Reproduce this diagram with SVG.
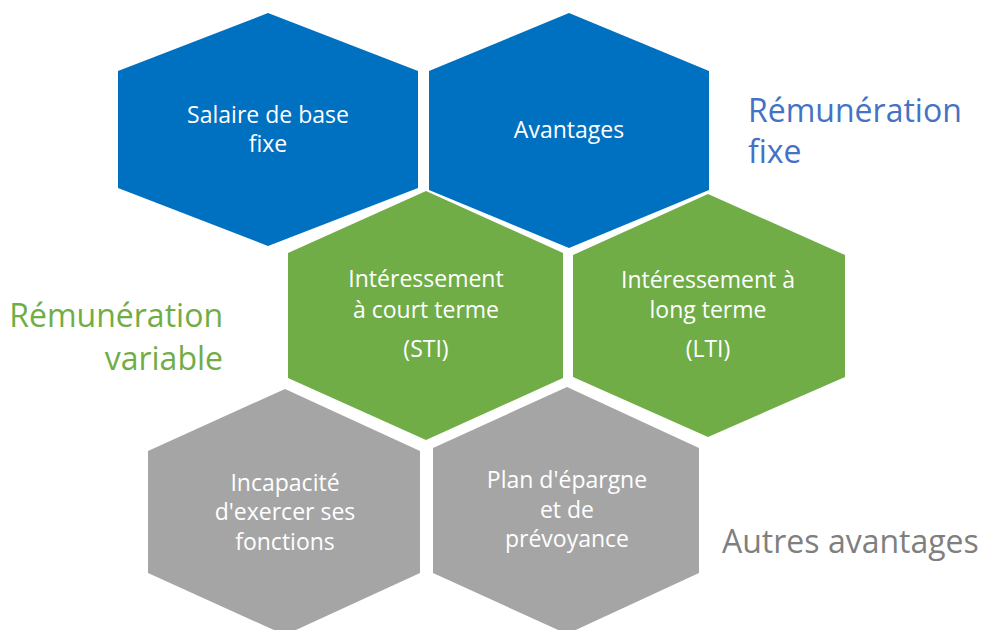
<svg xmlns="http://www.w3.org/2000/svg" width="982" height="630" viewBox="0 0 982 630">
<style>
.blue{fill:#0070C0}
.green{fill:#70AD47}
.gray{fill:#A5A5A5}
.t{font-family:"Open Sans","Noto Sans","Liberation Sans",sans-serif;font-size:23px;fill:#FFFFFF;text-anchor:middle}
.side{font-family:"Open Sans","Noto Sans","Liberation Sans",sans-serif;font-size:32px}
</style>
<rect width="982" height="630" fill="#FFFFFF"/>
<g id="salaire">
<polygon class="blue" points="268,13 418,71 418,188 268,246 118,188 118,71"/>
<text class="t" x="268" y="123">Salaire de base</text>
<text class="t" x="268" y="152">fixe</text>
</g>
<g id="avantages">
<polygon class="blue" points="569,13 709,71 709,190 569,248 429,190 429,71"/>
<text class="t" x="569" y="138">Avantages</text>
</g>
<g id="sti">
<polygon class="green" points="426,191 563,253 563,378 426,440 288,378 288,253"/>
<text class="t" x="426" y="287">Intéressement</text>
<text class="t" x="426" y="318">à court terme</text>
<text class="t" x="426" y="357">(STI)</text>
</g>
<g id="lti">
<polygon class="green" points="708,194 845,255 845,377 708,437 573,377 573,255"/>
<text class="t" x="708" y="288">Intéressement à</text>
<text class="t" x="708" y="318">long terme</text>
<text class="t" x="708" y="357">(LTI)</text>
</g>
<g id="incapacite">
<polygon class="gray" points="285,389 420,451 420,573 285,635 148,573 148,451"/>
<text class="t" x="285" y="491">Incapacité</text>
<text class="t" x="285" y="520">d'exercer ses</text>
<text class="t" x="285" y="550">fonctions</text>
</g>
<g id="plan">
<polygon class="gray" points="567,387 699,448 699,573 567,634 433,573 433,448"/>
<text class="t" x="567" y="488">Plan d'épargne</text>
<text class="t" x="567" y="518">et de</text>
<text class="t" x="567" y="547">prévoyance</text>
</g>
<g id="label-fixe">
<text class="side" x="748" y="122" fill="#4472C4">Rémunération</text>
<text class="side" x="748" y="163" fill="#4472C4">fixe</text>
</g>
<g id="label-variable">
<text class="side" x="223" y="327" fill="#70AD47" text-anchor="end">Rémunération</text>
<text class="side" x="223" y="370" fill="#70AD47" text-anchor="end">variable</text>
</g>
<g id="label-autres">
<text class="side" x="722" y="553" fill="#7F7F7F" font-size="31">Autres avantages</text>
</g>
<g id="connectors"></g>
</svg>
